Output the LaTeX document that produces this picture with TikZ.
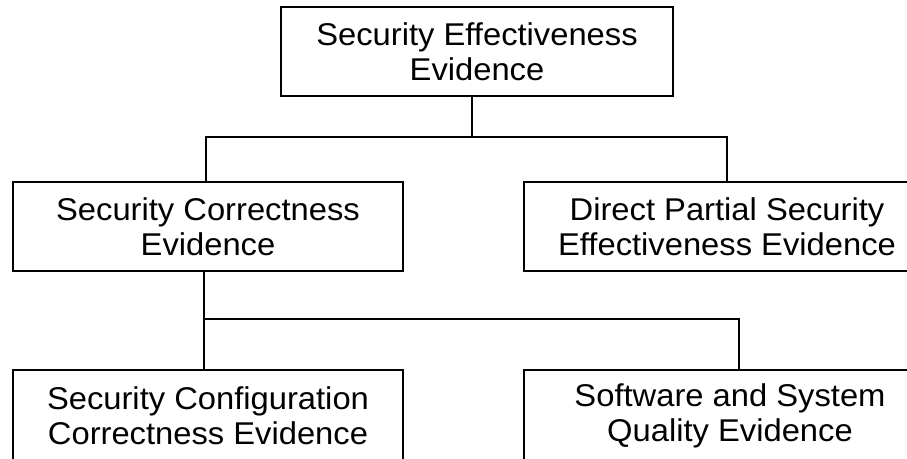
\documentclass[tikz,border=0pt]{standalone}
\usepackage{tikz, xcolor}
\usepackage{fontspec}
\setmainfont{Liberation Sans}[FakeStretch=1.04]
\usetikzlibrary{shapes,arrows}

\begin{document}
\begin{tikzpicture}[x=0.75pt, y=-0.75pt]
\tikzstyle{boxr}=[rectangle, draw=black, line width=1.5pt, align=center, inner sep=2pt, font=\fontsize{23.6}{26.3}\selectfont]
\tikzstyle{drawstyle}=[line width=1.5pt]

\useasboundingbox (0,0) rectangle (907,459);
\clip (0,0) rectangle (907,459);

\node[boxr, minimum width=392*0.75pt, minimum height=89*0.75pt] (T0x0) at (477,52) {Security Effectiveness\\Evidence};
\node[boxr, minimum width=390*0.75pt, minimum height=89*0.75pt] (T0x1) at (208,226.5) {Security Correctness\\Evidence};
\node[boxr, minimum width=406*0.75pt, minimum height=89*0.75pt] (T1x1) at (727,226.5) {Direct Partial Security\\Effectiveness Evidence};
\node[boxr, minimum width=390*0.75pt, minimum height=92*0.75pt] (T0x2) at (208,416) {Security Configuration\\Correctness Evidence};
\node[boxr, minimum width=412*0.75pt, minimum height=92*0.75pt] (T1x2) at (730,416) {Software and System\\Quality Evidence};

\coordinate (J0) at (472,136.7);
\coordinate (J1) at (204,319);
\coordinate (J2) at (738.6,319);
\draw[drawstyle] (J0 |- T0x0.south) -- (J0);
\draw[drawstyle] (T0x1.north -| 206,0) |- (J0) -| (T1x1.north);
\draw[drawstyle] (J1 |- T0x1.south) -- (J1);
\draw[drawstyle] (T0x2.north -| J1) -- (J1) -- (J2) -- (J2 |- T1x2.north);
\end{tikzpicture}
\end{document}
